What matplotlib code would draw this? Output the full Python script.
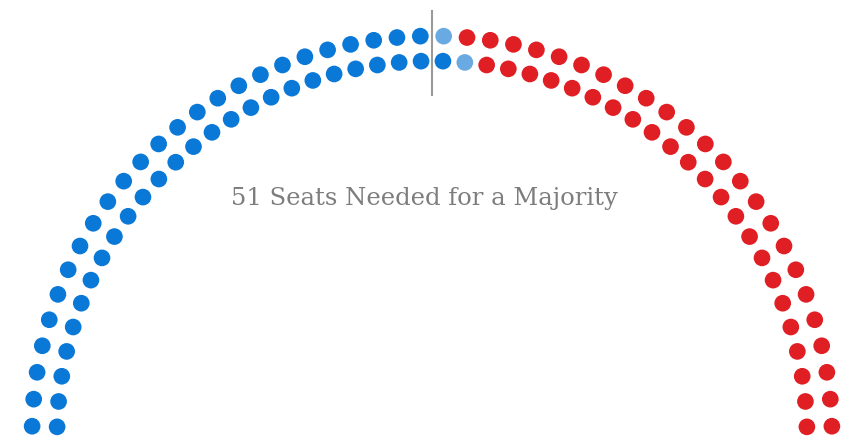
import numpy as np
import matplotlib.pyplot as plt

# seat counts, ordered left to right around the arc
parties = ["Democrats", "Independents", "Republicans"]
seats = [51, 2, 47]
colors = ["#0a78d6", "#6aaae3", "#e01f25"]
majority_label = "51 Seats Needed for a Majority"

# layout (pixel coordinates)
cx, cy = 432, 436
radii = [375, 400]          # inner row, outer row
per_row = 50
theta0 = np.radians(1.4)
warp = np.radians(2.1)      # seats sit a bit denser near the top

fig = plt.figure(figsize=(8.46, 4.48), dpi=100)
ax = fig.add_axes([0, 0, 1, 1])
ax.set_xlim(0, 846)
ax.set_ylim(448, 0)
ax.axis("off")

# seat positions: by angle (left -> right), inner row first at each angle
u = np.linspace(0, 1, per_row)
phi = theta0 + (np.pi - 2 * theta0) * u + warp * np.sin(2 * np.pi * u)
angles = np.pi - phi
xs, ys = [], []
for a in angles:
    for r in radii:
        xs.append(cx + r * np.cos(a))
        ys.append(cy - r * np.sin(a))
xs, ys = np.array(xs), np.array(ys)

seat_colors = []
for c, n in zip(colors, seats):
    seat_colors += [c] * n

ax.scatter(xs, ys, s=144, c=seat_colors, linewidths=0, zorder=2)

# majority marker line
ax.plot([431.5, 431.5], [11, 95], color="#9a9a9a", lw=1.5, zorder=1)

ax.text(424, 205, majority_label, ha="center", va="baseline",
        fontsize=17.5, color="#7d7d7d", family="DejaVu Serif")

fig.savefig("out.png", dpi=100)
